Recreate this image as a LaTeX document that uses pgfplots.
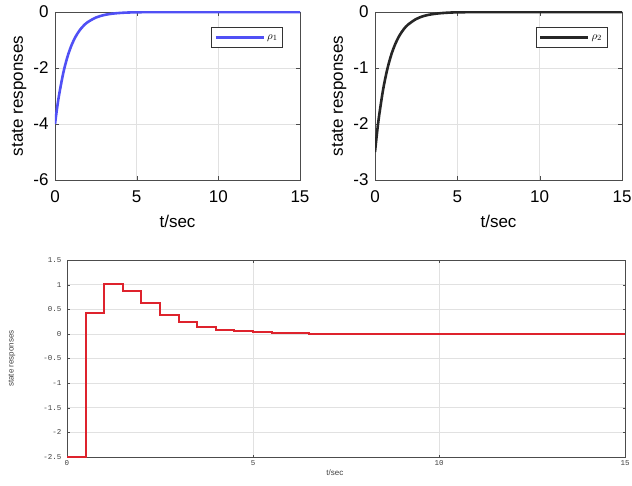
\documentclass[border=0pt]{standalone}
\usepackage{fontspec}
\setmainfont{Liberation Sans}
\newfontfamily\monofont{Liberation Mono}
\usepackage{pgfplots}
\pgfplotsset{compat=1.18}

\definecolor{cblue}{RGB}{80,80,245}
\definecolor{cred}{RGB}{222,35,45}
\definecolor{gridgray}{RGB}{225,225,225}

\pgfplotsset{
  mat/.style={
    scale only axis,
    axis line style={draw=black!70},
    tick align=inside,
    major tick length=4pt,
    tick style={black!70},
    xtick pos=both, ytick pos=both,
    grid=major,
    major grid style={gridgray, line width=0.6pt},
    /pgf/number format/assume math mode=true,
    clip=true,
  },
  top/.style={
    mat,
    width=245pt, height=168pt,
    xmin=0, xmax=15,
    xtick={0,5,10,15},
    tick label style={font=\fontsize{17}{19}\selectfont},
    xticklabel style={yshift=-7pt},
    yticklabel style={xshift=-3pt},
    label style={font=\fontsize{17}{19}\selectfont},
    xlabel={t/sec}, ylabel={state responses},
    xlabel style={yshift=-6pt},
    legend style={font=\fontsize{11}{12}\selectfont, draw=black!80,
      inner xsep=3pt, inner ysep=5pt},
    legend cell align=left,
    legend image code/.code={\draw[#1] (0pt,0pt) -- (48pt,0pt);},
  },
}

\begin{document}
\begin{tikzpicture}
\useasboundingbox (0pt,0pt) rectangle (632pt,485pt);

% top left
\begin{axis}[top, at={(55pt,305pt)}, anchor=south west,
  ymin=-6, ymax=0, ytick={-6,-4,-2,0},
  legend style={at={(0.93,0.91)}, anchor=north east}]
\addplot[cblue, line width=2.6pt, smooth] coordinates {
 (0,-4) (0.125,-3.443) (0.25,-2.963) (0.5,-2.195) (0.75,-1.626) (1,-1.205)
 (1.25,-0.892) (1.5,-0.661) (1.75,-0.490) (2,-0.363) (2.5,-0.199) (3,-0.109)
 (3.5,-0.060) (4,-0.033) (4.5,-0.018) (5,-0.010) (6,-0.003) (8,0) (15,0)
};
\addlegendentry{$\rho_1$}
\end{axis}

% top right
\begin{axis}[top, at={(375pt,305pt)}, anchor=south west, width=247pt,
  ymin=-3, ymax=0, ytick={-3,-2,-1,0},
  legend style={at={(0.94,0.91)}, anchor=north east}]
\addplot[black!85, line width=2.6pt, smooth] coordinates {
 (0,-2.5) (0.125,-2.152) (0.25,-1.852) (0.5,-1.372) (0.75,-1.017) (1,-0.753)
 (1.25,-0.558) (1.5,-0.413) (1.75,-0.306) (2,-0.227) (2.5,-0.125) (3,-0.068)
 (3.5,-0.038) (4,-0.021) (4.5,-0.011) (5,-0.006) (6,-0.002) (8,0) (15,0)
};
\addlegendentry{$\rho_2$}
\end{axis}

% bottom
\begin{axis}[mat, at={(67pt,28pt)}, anchor=south west,
  width=558pt, height=197pt,
  xmin=0, xmax=15, xtick={0,5,10,15},
  ymin=-2.5, ymax=1.5, ytick={-2.5,-2,...,1.5},
  major tick length=2.5pt,
  tick label style={font=\monofont\fontsize{7.5}{8}\selectfont, text=black!75},
  yticklabel style={/pgf/number format/fixed, /pgf/number format/precision=1,
    xshift=-2pt},
  xlabel={t/sec}, ylabel={state responses},
  xlabel style={font=\fontsize{8}{9}\selectfont, text=black!75,
    at={(axis description cs:0.48,0)}, anchor=north, yshift=-9pt},
  ylabel style={font=\fontsize{8}{9}\selectfont, text=black!75,
    at={(axis description cs:-0.099,0.5)}, anchor=center}]
\addplot[cred, line width=2pt, const plot] coordinates {
 (0,-2.49) (0.5,0.43) (1,1.02) (1.5,0.87) (2,0.62) (2.5,0.38) (3,0.24)
 (3.5,0.14) (4,0.08) (4.5,0.05) (5,0.03) (5.5,0.02) (6,0.01) (6.5,0.005)
 (7,0) (15,0)
};
\end{axis}
\end{tikzpicture}
\end{document}
